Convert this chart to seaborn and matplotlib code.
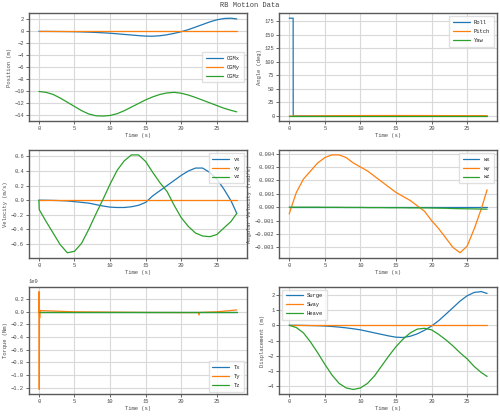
import numpy as np
import pandas as pd
import seaborn as sns
import matplotlib.pyplot as plt
import matplotlib.ticker as ticker

# --- data ---
t = [0, 1, 2, 3, 4, 5, 6, 7, 8, 9, 10, 11, 12, 13, 14, 15, 16, 17, 18, 19,
     20, 21, 22, 23, 24, 25, 26, 27, 27.8]

cgm_x = [0, 0, -0.01, -0.02, -0.03, -0.05, -0.08, -0.12, -0.17, -0.23, -0.3, -0.4, -0.5, -0.6,
         -0.7, -0.78, -0.8, -0.72, -0.56, -0.33, -0.05, 0.3, 0.72, 1.15, 1.58, 1.93, 2.15, 2.2, 2.08]
cgm_y = [0] * 29
cgm_z = [-10, -10.15, -10.5, -11.1, -11.8, -12.5, -13.2, -13.75, -14.05, -14.1, -14.0, -13.7, -13.2,
         -12.6, -12.0, -11.4, -10.9, -10.5, -10.25, -10.15, -10.3, -10.6, -11.0, -11.45, -11.9,
         -12.35, -12.8, -13.15, -13.4]

angle_t = [0, 0.55, 0.56, 5, 10, 15, 20, 25, 27.8]
roll = [180, 180, 0, 0, 0, 0, 0, 0, 0]
pitch = [0, 0, 0, 0.5, 0.9, 1.0, 0.9, 0.7, 0.6]
yaw = [0, 0, 0, 0, 0, 0, 0, 0, 0]

vel_t = [0, 0.05] + t[1:]
vx = [0, 0, -0.001, -0.003, -0.006, -0.01, -0.02, -0.03, -0.04, -0.06, -0.08, -0.095, -0.1, -0.1,
      -0.09, -0.07, -0.03, 0.06, 0.13, 0.2, 0.27, 0.34, 0.4, 0.44, 0.44, 0.38, 0.29, 0.15, -0.01, -0.18]
vy = [0] * 30
vz = [0, -0.13, -0.29, -0.45, -0.61, -0.72, -0.7, -0.59, -0.4, -0.19, 0.01, 0.22, 0.41, 0.54, 0.62,
      0.62, 0.53, 0.38, 0.24, 0.12, -0.07, -0.24, -0.36, -0.45, -0.49, -0.5, -0.47, -0.38, -0.29, -0.18]

ang_t = [0, 0.3] + t[1:]
wx = [0] * 30
wy = [-0.0005, 0.0, 0.0011, 0.0021, 0.0027, 0.0033, 0.0037, 0.0039, 0.0039, 0.0037, 0.0033, 0.003,
      0.0027, 0.0023, 0.0019, 0.0015, 0.0011, 0.0008, 0.0005, 0.0001, -0.0003, -0.001, -0.0016,
      -0.0023, -0.003, -0.0034, -0.0029, -0.0016, -0.0001, 0.0013]
wz = [0, 0, 0, 0, 0, 0, -0.00001, -0.00001, -0.00001, -0.00002, -0.00002, -0.00002, -0.00003,
      -0.00003, -0.00003, -0.00004, -0.00004, -0.00004, -0.00005, -0.00005, -0.00005, -0.00006,
      -0.00007, -0.00008, -0.0001, -0.00011, -0.00012, -0.00013, -0.00014, -0.00015]

torque_t = [0, 0.02, 0.05, 0.08, 0.1, 0.15, 0.2, 5, 10, 15, 20, 22.4, 22.5, 22.6, 25, 27.8]
tx = [0, 0, 0, 0, 0, 0, 0, 0, 0, 0, 0, 0, 0, 0, 0, 0]
ty = [0, 0.32e9, -1.23e9, 0.02e9, -0.1e9, 0.02e9, 0.02e9, 0.0, -0.005e9, -0.01e9, -0.012e9,
      -0.012e9, -0.05e9, -0.01e9, 0.0, 0.03e9]
tz = [0, 0, 0, 0, 0, 0, 0, 0, 0, 0, 0, 0, 0, 0, 0, 0]

surge = cgm_x
sway = cgm_y
heave = [0, -0.15, -0.5, -1.1, -1.8, -2.55, -3.25, -3.8, -4.1, -4.2, -4.1, -3.8, -3.3, -2.65, -2.0,
         -1.4, -0.9, -0.5, -0.25, -0.2, -0.3, -0.6, -0.95, -1.35, -1.8, -2.2, -2.7, -3.1, -3.35]

sns.set_style("whitegrid", {"axes.edgecolor": "0.35", "grid.color": "0.85",
                            "xtick.bottom": True, "ytick.left": True})
plt.rcParams['font.family'] = ['Liberation Mono', 'DejaVu Sans']
plt.rcParams['font.size'] = 4
plt.rcParams['xtick.major.size'] = 2
plt.rcParams['ytick.major.size'] = 2
plt.rcParams['xtick.major.width'] = 0.6
plt.rcParams['ytick.major.width'] = 0.6
plt.rcParams['xtick.color'] = '0.3'
plt.rcParams['ytick.color'] = '0.3'
plt.rcParams['axes.labelcolor'] = '0.3'

pal = sns.color_palette("tab10")

fig, axes = plt.subplots(3, 2, figsize=(5, 4.16), dpi=100)
fig.suptitle("RB Motion Data", fontsize=5, y=0.995, color='0.25')


def draw(ax, x, series, labels, ylabel, loc, ystep):
    for i, (s, lab) in enumerate(zip(series, labels)):
        sns.lineplot(x=x, y=s, ax=ax, label=lab, color=pal[i], linewidth=0.9, sort=False)
    ax.set_xlabel("Time (s)", fontsize=4)
    ax.set_ylabel(ylabel, fontsize=4)
    ax.tick_params(labelsize=4, pad=1.5)
    ax.yaxis.set_major_locator(ticker.MultipleLocator(ystep))
    ax.xaxis.set_major_locator(ticker.MultipleLocator(5))
    ax.grid(True, linewidth=0.8)
    for sp in ax.spines.values():
        sp.set_linewidth(1.0)
    ax.xaxis.labelpad = 1.5
    ax.yaxis.labelpad = 2
    ax.legend(loc=loc, fontsize=4, frameon=True, handlelength=3, borderpad=0.7,
              labelspacing=0.7, fancybox=False, edgecolor='0.85')


draw(axes[0][0], t, [cgm_x, cgm_y, cgm_z], ["CGMx", "CGMy", "CGMz"], "Position (m)", "center right", 2)
draw(axes[0][1], angle_t, [roll, pitch, yaw], ["Roll", "Pitch", "Yaw"], "Angle (deg)", "upper right", 25)
draw(axes[1][0], vel_t, [vx, vy, vz], ["vx", "vy", "vz"], "Velocity (m/s)", "upper right", 0.2)
draw(axes[1][1], ang_t, [wx, wy, wz], ["wx", "wy", "wz"], "Angular Velocity (rad/s)", "upper right", 0.001)
draw(axes[2][0], torque_t, [tx, ty, tz], ["Tx", "Ty", "Tz"], "Torque (Nm)", "lower right", 0.2e9)
draw(axes[2][1], t, [surge, sway, heave], ["Surge", "Sway", "Heave"], "Displacement (m)", "upper left", 1)

axes[2][0].yaxis.get_offset_text().set_fontsize(4)

plt.subplots_adjust(left=0.058, right=0.994, top=0.968, bottom=0.052, wspace=0.15, hspace=0.27)
plt.savefig("out.png", dpi=100)
